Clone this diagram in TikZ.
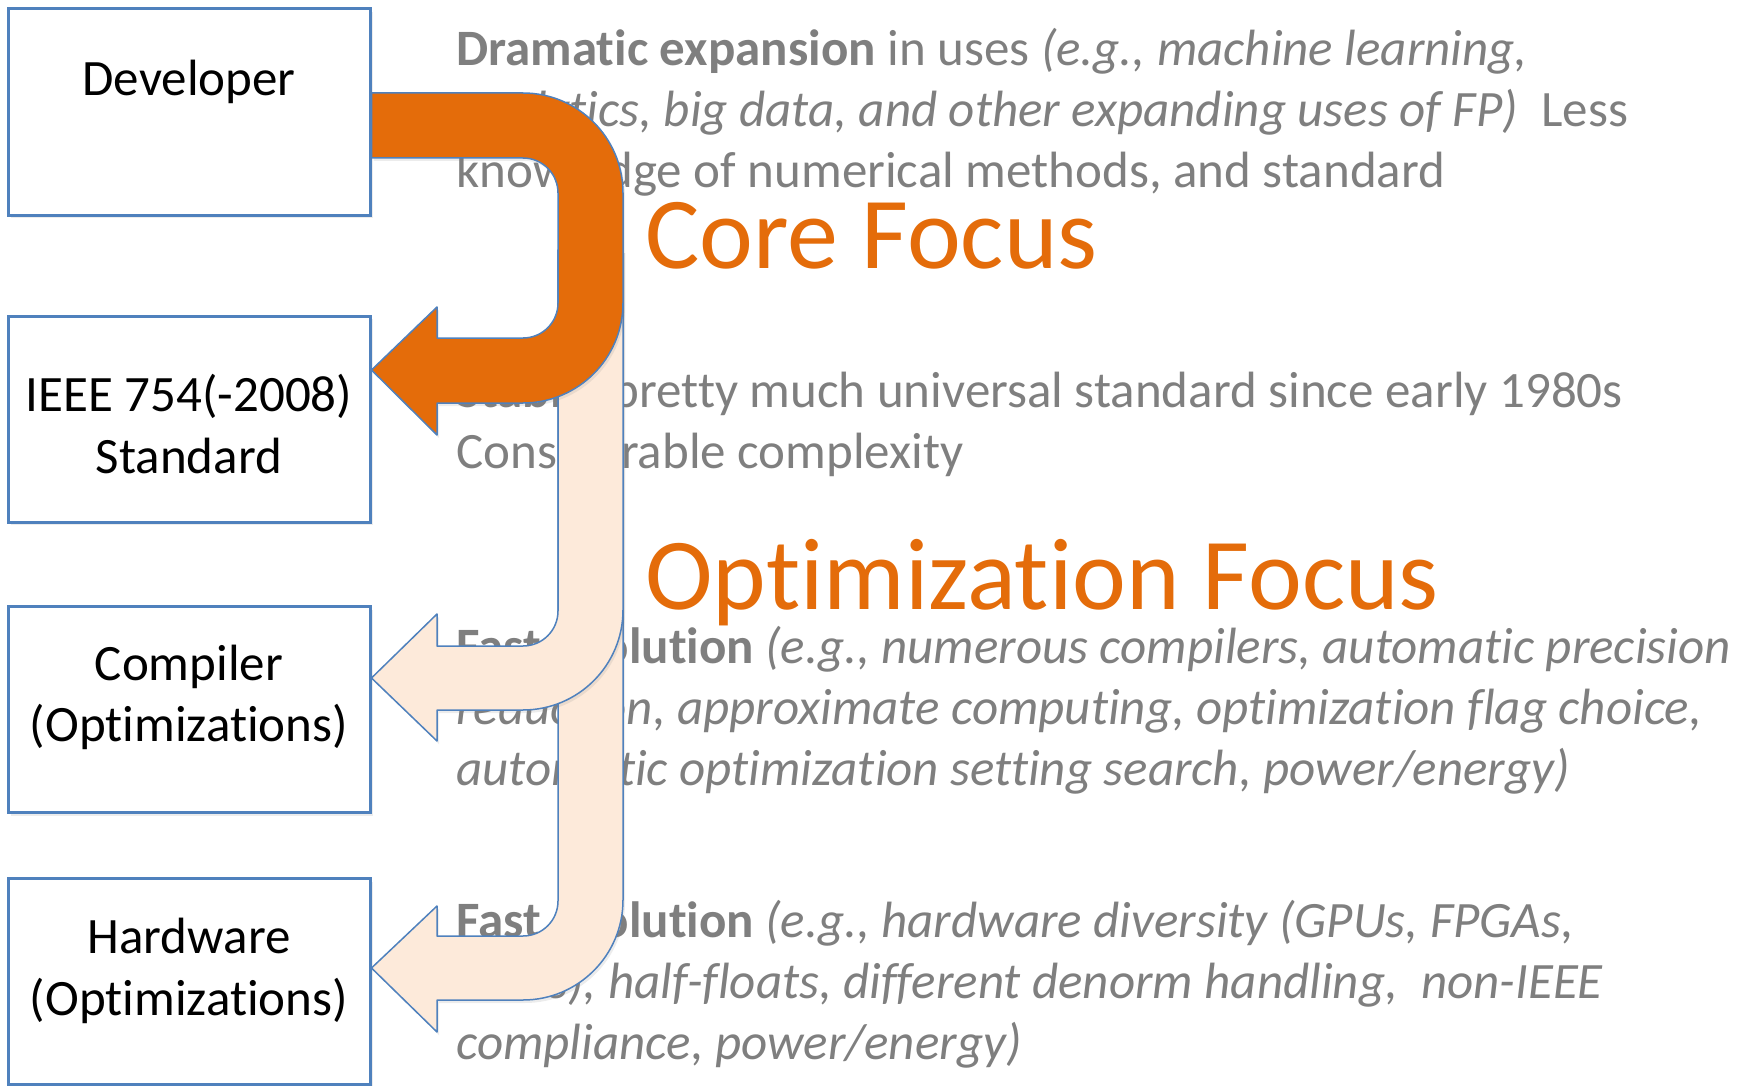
\documentclass[tikz,border=0pt]{standalone}
\usepackage{fontspec}
\setmainfont{Carlito}[RawFeature={-liga;-clig;-calt;-dlig}]
\usetikzlibrary{shadows}
\definecolor{boxblue}{HTML}{4F81BD}
\definecolor{corange}{HTML}{E46C0A}
\definecolor{peach}{HTML}{FDEADA}
\definecolor{txtgray}{HTML}{7F7F7F}
\tikzset{					% picture styles
	layer/.style={			% boxes on the left
		draw=boxblue, line width=1.5pt, fill=white,
		minimum width=181pt, minimum height=103pt,
		align=center, font=\fontsize{25.5}{30.75}\selectfont, text depth=8pt,
		drop shadow={opacity=0.15,shadow xshift=1.5pt,shadow yshift=-1.5pt}
	},
	note/.style={			% grey text blocks, placed at their last baseline
		anchor=base west, align=left, text=txtgray, inner sep=0pt,
		font=\fontsize{25.5}{30.5}\selectfont
	},
	focus/.style={anchor=base west, text=corange, inner sep=0pt,
		font=\fontsize{51}{60}\selectfont},
	bigarrow/.style={draw=boxblue, line width=0.75pt, line join=round,
		drop shadow={opacity=0.15,shadow xshift=1pt,shadow yshift=-1.5pt}}
}

\begin{document}
\begin{tikzpicture}[x=0.5pt,y=0.5pt]
	\useasboundingbox (0,0) rectangle (1752,-1086);
	% layers
	\node[layer, text height=52.5pt] (dev) at (189,-112) {Developer\\ \strut};
	\node[layer, text height=62pt] (ieee) at (189,-419) {IEEE 754(-2008)\\Standard};
	\node[layer, text height=40pt] (comp) at (189,-709.5) {Compiler\\(Optimizations)};
	\node[layer, text height=41.5pt] (hw) at (189,-981.5) {Hardware\\(Optimizations)};
	% text
	\node[note] (uses) at (456,-187) {\textbf{Dramatic expansion} in uses \textit{(e.g., machine learning,}\\
		\textit{analytics, big data, and other expanding uses of FP)}~ Less\\
		knowledge of numerical methods, and standard};
	\node[note] (stable) at (456,-468) {\textbf{Stable}, pretty much universal standard since early 1980s\\
		Considerable complexity};
	\node[note] (compevo) at (456,-785) {\textbf{Fast evolution} \textit{(e.g., numerous compilers, automatic precision}\\
		\textit{reduction, approximate computing, optimization flag choice,}\\
		\textit{automatic optimization setting search, power/energy)}};
	\node[note] (hwevo) at (456,-1059) {\textbf{Fast evolution} \textit{(e.g., hardware diversity (GPUs, FPGAs,}\\
		\textit{ASICs), half-floats, different denorm handling,~ non-IEEE}\\
		\textit{compliance, power/energy)}};
	\node[focus] (core) at (645,-268) {Core Focus};
	\node[focus] (opt) at (645,-609) {Optimization Focus};
	% arrows
	\draw[bigarrow, fill=peach] (558,-250) -- (623,-250) -- (623,-900)
		arc[start angle=0,end angle=-90,radius=100] -- (437,-1000) -- (437,-1032)
		-- (hw.east |- 0,-968) coordinate (tiphw) -- (437,-906) -- (437,-936) -- (523,-936)
		arc[start angle=-90,end angle=0,radius=35] -- cycle;
	\draw[bigarrow, fill=peach] (558,-250) -- (623,-250) -- (623,-610)
		arc[start angle=0,end angle=-90,radius=100] -- (437,-710) -- (437,-741)
		-- (comp.east |- 0,-678) coordinate (tipcomp) -- (437,-614) -- (437,-646) -- (523,-646)
		arc[start angle=-90,end angle=0,radius=35] -- cycle;
	\draw[bigarrow, fill=corange] (dev.east |- 0,-93) -- (523,-93)
		arc[start angle=90,end angle=0,radius=100] -- (623,-303)
		arc[start angle=0,end angle=-90,radius=100] -- (437,-403) -- (437,-435)
		-- (ieee.east |- 0,-370) coordinate (tipieee) -- (437,-307) -- (437,-338) -- (523,-338)
		arc[start angle=-90,end angle=0,radius=35] -- (558,-193)
		arc[start angle=0,end angle=90,radius=35] -- (dev.east |- 0,-158) -- cycle;
\end{tikzpicture}
\end{document}
